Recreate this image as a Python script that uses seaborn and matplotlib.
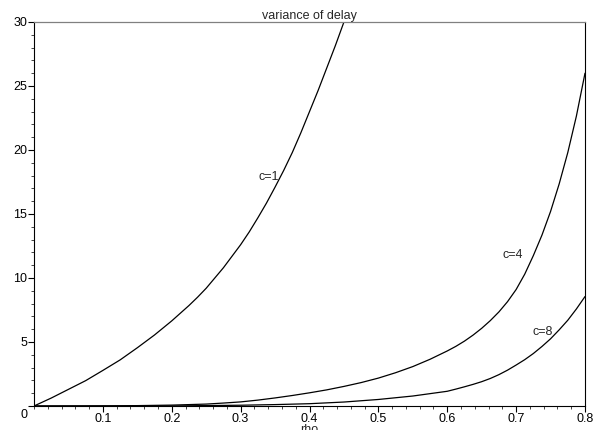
import matplotlib
matplotlib.use("Agg")
import matplotlib.pyplot as plt
import matplotlib.transforms as mtransforms
from matplotlib.ticker import MultipleLocator
import pandas as pd
import seaborn as sns

rho_c1 = [0, 0.025, 0.05, 0.075, 0.1, 0.125, 0.15, 0.175, 0.2, 0.2125, 0.225,
          0.2375, 0.25, 0.2625, 0.275, 0.2875, 0.3, 0.3125, 0.325, 0.3375, 0.35,
          0.3625, 0.375, 0.3875, 0.4, 0.4125, 0.425, 0.4375, 0.45, 0.46]
var_c1 = [0, 0.62, 1.3, 1.98, 2.78, 3.6, 4.55, 5.55, 6.65, 7.25, 7.85,
          8.5, 9.2, 10.0, 10.8, 11.7, 12.6, 13.6, 14.7, 15.85, 17.1,
          18.4, 19.8, 21.35, 23.0, 24.65, 26.4, 28.15, 30.0, 31.6]

rho_c4 = [0, 0.1, 0.15, 0.2, 0.25, 0.275, 0.3, 0.325, 0.35, 0.375, 0.4, 0.425,
          0.45, 0.475, 0.5, 0.525, 0.55, 0.575, 0.6, 0.6125, 0.625, 0.6375,
          0.65, 0.6625, 0.675, 0.6875, 0.7, 0.7125, 0.725, 0.7375, 0.75,
          0.7625, 0.775, 0.7875, 0.8]
var_c4 = [0, 0.01, 0.03, 0.07, 0.15, 0.23, 0.32, 0.46, 0.63, 0.82, 1.03, 1.26,
          1.53, 1.83, 2.18, 2.6, 3.08, 3.65, 4.3, 4.66, 5.07, 5.54,
          6.07, 6.67, 7.35, 8.15, 9.1, 10.3, 11.75, 13.35, 15.2,
          17.35, 19.8, 22.65, 26.0]

rho_c8 = [0, 0.2, 0.3, 0.35, 0.4, 0.45, 0.5, 0.55, 0.6, 0.6125, 0.625, 0.6375,
          0.65, 0.6625, 0.675, 0.6875, 0.7, 0.7125, 0.725, 0.7375, 0.75,
          0.7625, 0.775, 0.7875, 0.8]
var_c8 = [0, 0.005, 0.06, 0.11, 0.18, 0.31, 0.51, 0.78, 1.15, 1.32, 1.5, 1.69,
          1.9, 2.15, 2.45, 2.8, 3.2, 3.62, 4.1, 4.65, 5.25,
          5.95, 6.7, 7.58, 8.55]

x_ticks = [0.1, 0.2, 0.3, 0.4, 0.5, 0.6, 0.7, 0.8]
y_ticks = [0, 5, 10, 15, 20, 25, 30]

sns.set_theme(style="ticks")
plt.rcParams["font.family"] = ["Liberation Sans", "DejaVu Sans"]

fig = plt.figure(figsize=(5.94, 4.30), dpi=100)
ax = fig.add_axes([34 / 594, 1 - 406 / 430, 551 / 594, 384 / 430])

for rho, var in [(rho_c1, var_c1), (rho_c4, var_c4), (rho_c8, var_c8)]:
    df = pd.DataFrame({"rho": rho, "var": var})
    sns.lineplot(data=df, x="rho", y="var", color="black", linewidth=0.9, ax=ax)

ax.set_xlim(0, 0.8)
ax.set_ylim(0, 30)
ax.set_xticks(x_ticks)
ax.set_xticklabels([f"{t:.1f}" for t in x_ticks])
ax.set_yticks(y_ticks)
ax.set_yticklabels([str(t) for t in y_ticks])
ax.xaxis.set_minor_locator(MultipleLocator(0.02))
ax.yaxis.set_minor_locator(MultipleLocator(1))
ax.tick_params(which="major", length=4, width=0.8, pad=1, labelsize=9, colors="black")
ax.tick_params(which="minor", length=2, width=0.6)

# the 0 label sits a bit below its tick
lbl0 = ax.get_yticklabels()[0]
lbl0.set_transform(lbl0.get_transform() + mtransforms.ScaledTranslation(0, -7 / 100, fig.dpi_scale_trans))

for side in ["left", "bottom", "right"]:
    ax.spines[side].set_color("black")
    ax.spines[side].set_linewidth(0.8)
ax.spines["top"].set_color("#808080")
ax.spines["top"].set_linewidth(0.9)

ax.set_title("variance of delay", fontsize=9, pad=2)
ax.set_xlabel("rho", fontsize=9, labelpad=-1)
ax.set_ylabel("")

ax.text(0.355, 17.9, "c=1", ha="right", va="center", fontsize=9)
ax.text(0.710, 11.8, "c=4", ha="right", va="center", fontsize=9)
ax.text(0.754, 5.8, "c=8", ha="right", va="center", fontsize=9)

fig.savefig("out.png", dpi=100)
